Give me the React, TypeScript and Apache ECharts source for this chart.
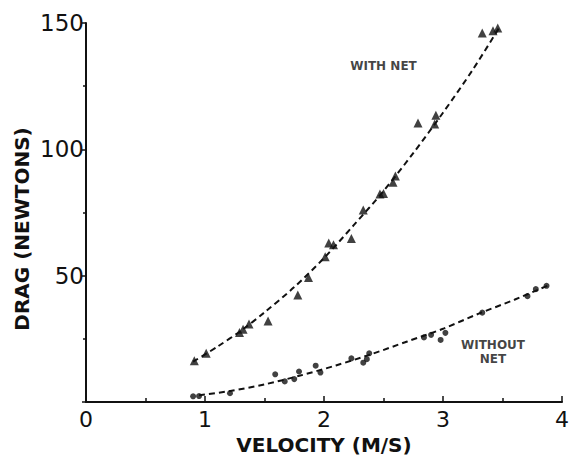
import React, { useEffect, useRef } from "react";
import * as echarts from "echarts";

const withNetV = [0.91, 1.01, 1.29, 1.32, 1.37, 1.53, 1.78, 1.87, 2.01, 2.04, 2.08, 2.23, 2.33, 2.47, 2.5, 2.58, 2.6, 2.79, 2.93, 2.94, 3.33, 3.42, 3.46];
const withNetD = [16.4, 19.3, 27.5, 28.8, 30.9, 32.1, 42.4, 49.3, 57.5, 63, 62.3, 64.7, 76, 82.3, 82.5, 87, 89.5, 110.4, 110, 113.5, 146, 146.9, 148];

const withoutNetV = [0.9, 0.95, 1.21, 1.59, 1.67, 1.75, 1.79, 1.93, 1.97, 2.23, 2.33, 2.36, 2.38, 2.84, 2.9, 2.98, 3.02, 3.33, 3.71, 3.78, 3.87];
const withoutNetD = [2.3, 2.4, 3.5, 11, 8.2, 9.1, 12.1, 14.4, 11.7, 17.3, 15.6, 17, 19.3, 25.6, 26.6, 24.6, 27.4, 35.4, 41.9, 44.7, 46];

const fitWithV = [0.9, 1.1, 1.31, 1.5, 1.75, 2.0, 2.25, 2.5, 2.75, 3.0, 3.25, 3.47];
const fitWithD = [16, 21.8, 28.5, 35.5, 45.5, 57, 70, 83.5, 98.5, 114.5, 131.5, 148];

const fitWithoutV = [0.95, 1.2, 1.5, 1.8, 2.1, 2.4, 2.7, 3.0, 3.3, 3.6, 3.9];
const fitWithoutD = [2.7, 4.3, 7, 10.5, 14.5, 19, 24, 29, 35, 40.5, 46.5];

const xTicks = [0, 1, 2, 3, 4];
const yTicks = [0, 50, 100, 150];

const labelWith = { v: 2.5, d: 133, text: "WITH NET" };
const labelWithout = { v: 3.42, d: 20, text: "WITHOUT\nNET" };

const ink = "#111";
const zip = (a: number[], b: number[]) => a.map((v, i) => [v, b[i]]);

export default function App() {
  const ref = useRef<HTMLDivElement>(null);
  useEffect(() => {
    document.body.style.margin = "0";
    const chart = echarts.init(ref.current!, null, { renderer: "svg" });
    const axisCommon = {
      axisLine: { show: true, lineStyle: { color: ink, width: 2 } },
      splitLine: { show: false },
      minorSplitLine: { show: false },
    };
    chart.setOption({
      animation: false,
      backgroundColor: "#fff",
      grid: { left: 86, right: 10, top: 23, bottom: 54 },
      graphic: [
        {
          type: "text",
          x: 22,
          y: 229,
          rotation: Math.PI / 2,
          style: {
            text: "DRAG (NEWTONS)",
            fill: ink,
            font: "bold 20px 'DejaVu Sans'",
            align: "center",
            verticalAlign: "middle",
          },
        },
      ],
      xAxis: {
        type: "value",
        min: xTicks[0],
        max: xTicks[xTicks.length - 1],
        interval: 1,
        ...axisCommon,
        axisTick: { show: true, inside: true, length: 6, lineStyle: { color: ink, width: 1.5 } },
        minorTick: { show: true, splitNumber: 2, length: 4, lineStyle: { color: ink, width: 1.5 } },
        axisLabel: { color: ink, fontSize: 22, fontFamily: "DejaVu Sans", margin: 6 },
        name: "VELOCITY (M/S)",
        nameLocation: "middle",
        nameGap: 32,
        nameTextStyle: { color: ink, fontSize: 20, fontWeight: "bold", fontFamily: "DejaVu Sans" },
      },
      yAxis: {
        type: "value",
        min: yTicks[0],
        max: yTicks[yTicks.length - 1],
        interval: 50,
        ...axisCommon,
        axisTick: { show: true, inside: false, length: 4, lineStyle: { color: ink, width: 1.5 } },
        minorTick: { show: true, splitNumber: 2, length: 3, lineStyle: { color: ink, width: 1.5 } },
        axisLabel: {
          color: ink,
          fontSize: 23,
          fontFamily: "DejaVu Sans",
          margin: 2,
          formatter: (v: number) => (v === 0 ? "" : String(v)),
        },
      },
      series: [
        {
          type: "line",
          data: zip(fitWithV, fitWithD),
          smooth: 0.3,
          showSymbol: false,
          lineStyle: { color: ink, width: 2, type: [6, 4] },
          z: 1,
        },
        {
          type: "line",
          data: zip(fitWithoutV, fitWithoutD),
          smooth: 0.3,
          showSymbol: false,
          lineStyle: { color: ink, width: 2, type: [6, 4] },
          z: 1,
        },
        {
          type: "scatter",
          data: zip(withNetV, withNetD),
          symbol: "triangle",
          symbolSize: 9,
          itemStyle: { color: ink },
          z: 2,
        },
        {
          type: "scatter",
          data: zip(withoutNetV, withoutNetD),
          symbol: "circle",
          symbolSize: 6,
          itemStyle: { color: ink },
          z: 2,
        },
        {
          type: "scatter",
          data: [
            { value: [labelWith.v, labelWith.d], label: { formatter: labelWith.text } },
            { value: [labelWithout.v, labelWithout.d], label: { formatter: labelWithout.text } },
          ],
          symbolSize: 0,
          label: {
            show: true,
            position: "inside",
            color: ink,
            fontSize: 12,
            fontWeight: "bold",
            fontFamily: "DejaVu Sans",
            lineHeight: 14,
            align: "center",
          },
          z: 3,
        },
      ],
    });
    return () => chart.dispose();
  }, []);
  return <div ref={ref} style={{ width: 572, height: 460 }} />;
}
